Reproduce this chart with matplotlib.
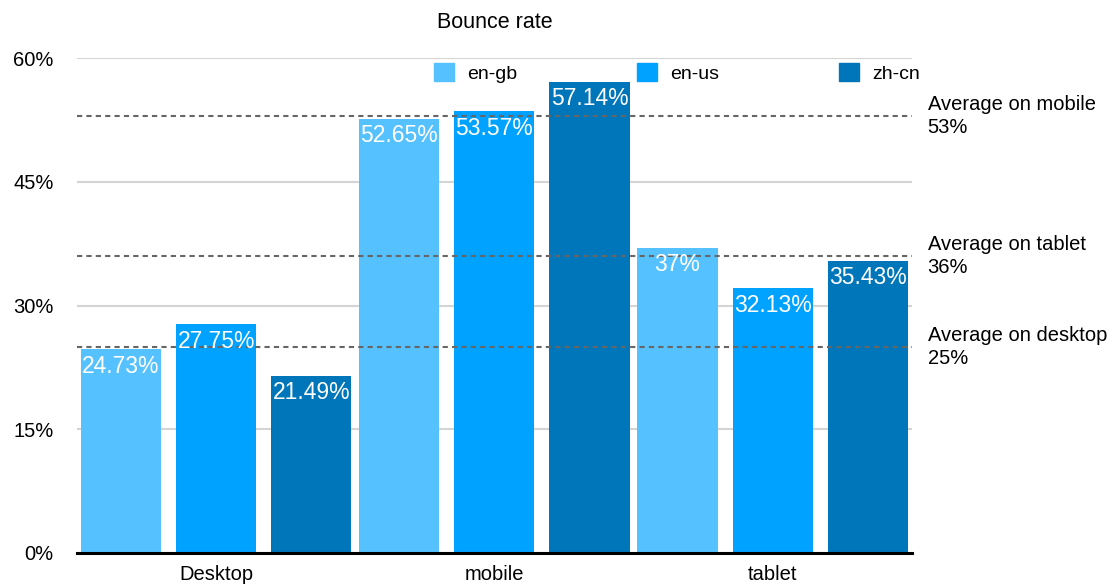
import numpy as np
import matplotlib
matplotlib.use('Agg')
import matplotlib.pyplot as plt
from matplotlib.patches import Patch

plt.rcParams['font.family'] = ['Liberation Sans', 'DejaVu Sans']

# data
categories = ['Desktop', 'mobile', 'tablet']
series_names = ['en-gb', 'en-us', 'zh-cn']
en_gb = [24.73, 52.65, 37]
en_us = [27.75, 53.57, 32.13]
zh_cn = [21.49, 57.14, 35.43]
averages = {'mobile': 53, 'tablet': 36, 'desktop': 25}
y_ticks = [0, 15, 30, 45, 60]

colors = ['#56C1FF', '#00A2FF', '#0076BA']

fig = plt.figure(figsize=(11.16, 5.87), dpi=100)
ax = fig.add_axes([0.069, 0.058, 0.748, 0.843])

x = np.arange(len(categories))
offset = 0.342
width = 0.288

for i, (name, vals) in enumerate(zip(series_names, [en_gb, en_us, zh_cn])):
    pos = x + (i - 1) * offset
    ax.bar(pos, vals, width, color=colors[i], zorder=2, label=name)
    for px, v in zip(pos, vals):
        ax.annotate(f'{v:g}%', (px, v), xytext=(0, -4), textcoords='offset points',
                    ha='center', va='top', color='white', fontsize=16.5, zorder=4)

# average lines with labels on the right
for label, val in averages.items():
    ax.axhline(val, color='#666666', lw=1.5, ls=(0, (2.5, 2)), zorder=3)
    ax.text(1.019, val, f'Average on {label}\n{val}%', transform=ax.get_yaxis_transform(),
            ha='left', va='center', fontsize=14.5, linespacing=1.3, clip_on=False)

ax.set_xlim(-0.5, 2.5)
ax.set_ylim(0, 60)
ax.set_yticks(y_ticks)
ax.set_yticklabels([f'{t}%' for t in y_ticks])
ax.set_xticks(x)
ax.set_xticklabels(categories)
ax.tick_params(axis='both', length=0, labelsize=14.5)
ax.tick_params(axis='y', pad=17)
ax.tick_params(axis='x', pad=9)

ax.grid(axis='y', color='#d4d4d4', lw=1.5, zorder=0)
ax.set_axisbelow(True)
for s in ['left', 'right', 'top']:
    ax.spines[s].set_visible(False)
ax.spines['bottom'].set_linewidth(2.2)
ax.spines['bottom'].set_zorder(5)

handles = [Patch(color=c) for c in colors]
ax.legend(handles, series_names, ncol=3, mode='expand', loc='center',
          bbox_to_anchor=(0.428, 0.970, 0.582, 0.0), frameon=False, fontsize=14,
          handlelength=1.0, handleheight=1.0, handletextpad=0.7,
          borderpad=0, borderaxespad=0)

ax.set_title('Bounce rate', fontsize=15.5, pad=22)

fig.savefig('out.png', dpi=100)
